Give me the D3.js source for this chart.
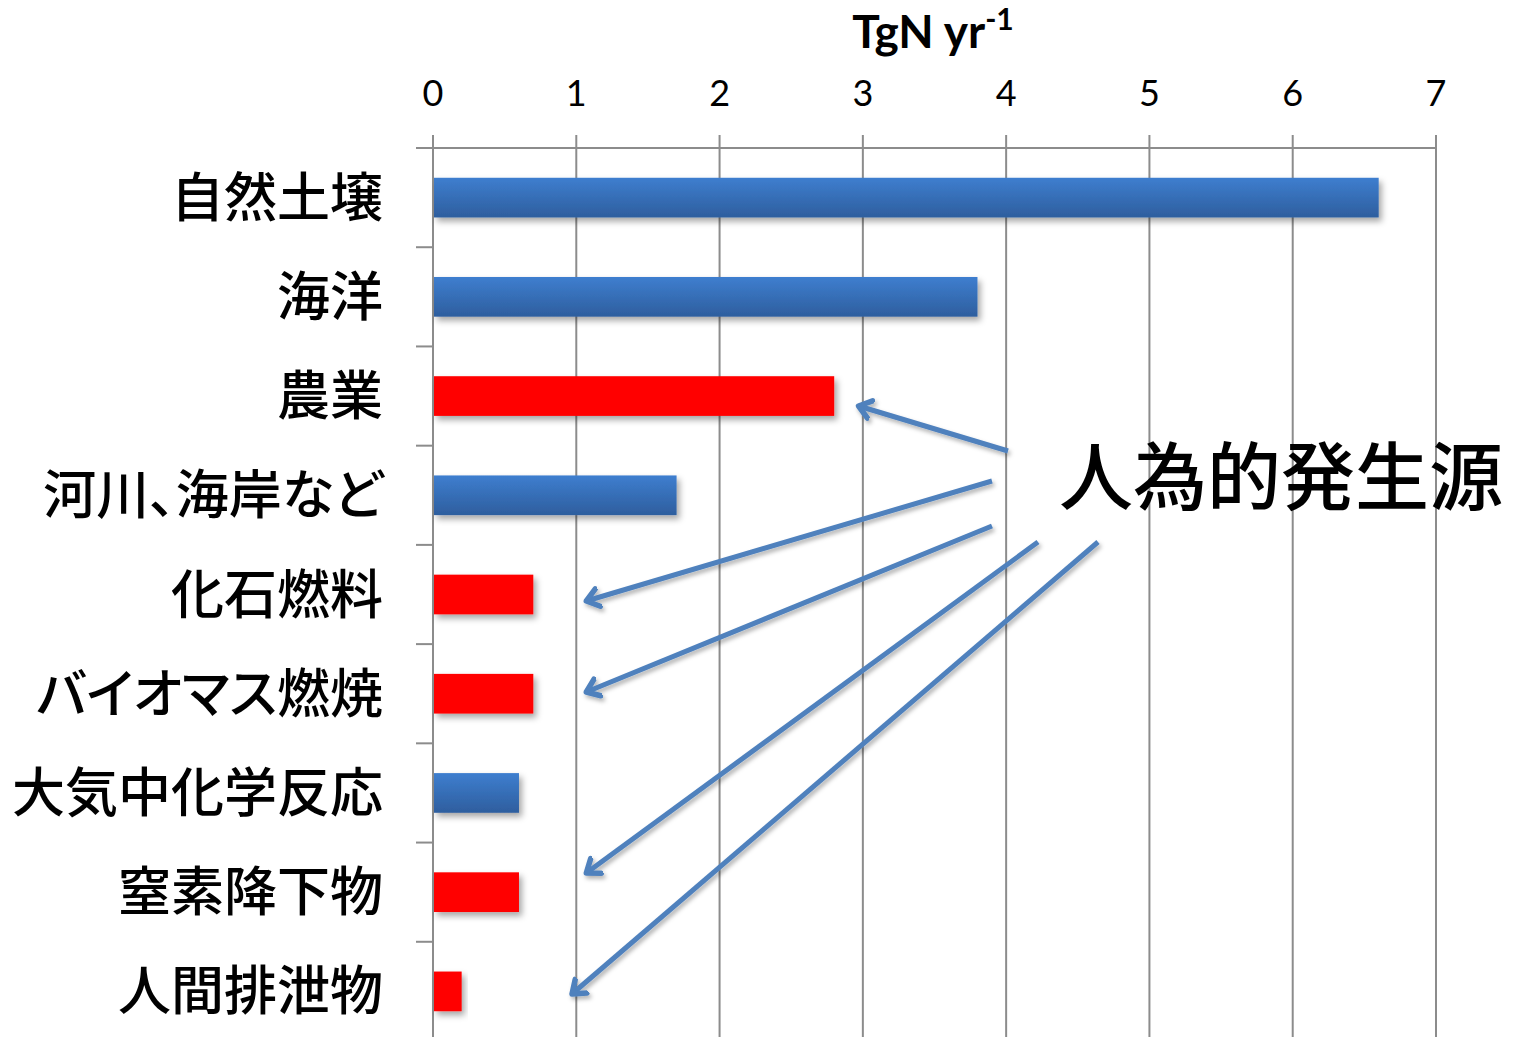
<!DOCTYPE html>
<html><head><meta charset="utf-8">
<script src="https://cdn.jsdelivr.net/npm/d3@7"></script>
<style>html,body{margin:0;padding:0;background:#fff;}svg{display:block;}</style>
</head><body>
<script>
const categories = ["自然土壌","海洋","農業","河川、海岸など","化石燃料","バイオマス燃焼","大気中化学反応","窒素降下物","人間排泄物"];
const values = [6.6, 3.8, 2.8, 1.7, 0.7, 0.7, 0.6, 0.6, 0.2];
const anthropogenic = [false, false, true, false, true, true, false, true, true];
const xTicks = [0,1,2,3,4,5,6,7];
const unitLabel = "TgN yr";
const unitSup = "-1";
const annotationText = "人為的発生源";
const arrowTargets = ["農業","化石燃料","バイオマス燃焼","窒素降下物","人間排泄物"];

const W = 1514, H = 1037;
const svg = d3.select("body").append("svg").attr("width", W).attr("height", H);
const defs = svg.append("defs");

const grad = defs.append("linearGradient").attr("id","blueGrad").attr("x1",0).attr("y1",0).attr("x2",0).attr("y2",1);
grad.append("stop").attr("offset","0%").attr("stop-color","#3e7ecf");
grad.append("stop").attr("offset","100%").attr("stop-color","#2e5e9e");

const sh = defs.append("filter").attr("id","shadow").attr("x","-10%").attr("y","-30%").attr("width","130%").attr("height","180%");
sh.append("feDropShadow").attr("dx",3).attr("dy",4).attr("stdDeviation",3).attr("flood-color","#000").attr("flood-opacity",0.35);

const ash = defs.append("filter").attr("id","ashadow").attr("x","-20%").attr("y","-20%").attr("width","140%").attr("height","140%");
ash.append("feDropShadow").attr("dx",2).attr("dy",3).attr("stdDeviation",2).attr("flood-color","#000").attr("flood-opacity",0.3);

defs.append("marker").attr("id","arrowHead").attr("viewBox","-14 -14 28 28")
  .attr("refX",0).attr("refY",0).attr("markerWidth",28).attr("markerHeight",28)
  .attr("markerUnits","userSpaceOnUse").attr("orient","auto")
  .append("path").attr("d","M-12,-9 L0,0 L-12,9").attr("fill","none")
  .attr("stroke","#4f81bd").attr("stroke-width",5.5).attr("stroke-linecap","round").attr("stroke-linejoin","round");

const x = d3.scaleLinear().domain([0,7]).range([433,1436]);
const y = d3.scaleBand().domain(categories).range([148,1041]).paddingInner(0.6).paddingOuter(0.3);
const yTicks = d3.scaleBand().domain(categories).range([148,1041]);

const grid = svg.append("g");
grid.selectAll("line.g").data(xTicks.filter(d=>d>0)).join("line")
  .attr("x1",d=>x(d)).attr("x2",d=>x(d)).attr("y1",135).attr("y2",H)
  .attr("stroke","#8c8c8c").attr("stroke-width",2);
grid.append("line").attr("x1",416).attr("x2",x(7)).attr("y1",148).attr("y2",148).attr("stroke","#8c8c8c").attr("stroke-width",2);
grid.append("line").attr("x1",x(0)).attr("x2",x(0)).attr("y1",135).attr("y2",H).attr("stroke","#8c8c8c").attr("stroke-width",2);
const bandEdges = categories.map(c=>yTicks(c)).concat([yTicks(categories[8])+yTicks.bandwidth()]);
grid.selectAll("line.lt").data(bandEdges).join("line")
  .attr("x1",416).attr("x2",x(0)).attr("y1",d=>d).attr("y2",d=>d)
  .attr("stroke","#8c8c8c").attr("stroke-width",2);

svg.append("g").selectAll("text").data(xTicks).join("text")
  .attr("x",d=>x(d)).attr("y",106).attr("text-anchor","middle")
  .attr("font-family","Lato, 'Open Sans', sans-serif").attr("font-size",36).attr("fill","#000")
  .text(d=>d);

const t = svg.append("text").attr("x",933).attr("y",48).attr("text-anchor","middle")
  .attr("font-family","Lato, 'Open Sans', sans-serif").attr("font-weight","bold").attr("font-size",46).attr("fill","#000");
t.append("tspan").text(unitLabel);
t.append("tspan").attr("dy",-18).attr("font-size",30).text(unitSup);

svg.append("g").selectAll("rect").data(categories).join("rect")
  .attr("x",x(0)+1).attr("y",d=>y(d)).attr("height",y.bandwidth())
  .attr("width",(d,i)=>x(values[i])-x(0)-1)
  .attr("fill",(d,i)=>anthropogenic[i] ? "#ff0000" : "url(#blueGrad)")
  .attr("filter","url(#shadow)");

svg.append("g").selectAll("text").data(categories).join("text")
  .attr("x",383).attr("y",d=>yTicks(d)+yTicks.bandwidth()/2).attr("dy","0.36em")
  .attr("text-anchor","end").attr("font-family","'Noto Sans CJK JP', sans-serif")
  .attr("font-weight",500).style("font-feature-settings","'palt'")
  .attr("font-size",53).attr("fill","#000").text(d=>d);

svg.append("text").attr("x",1059).attr("y",477).attr("dy","0.36em")
  .attr("font-family","'Noto Sans CJK JP', sans-serif").attr("font-weight",500).attr("font-size",74).attr("fill","#000")
  .text(annotationText);

const arrowStarts = [[1008,451],[992,481],[992,526],[1038,542],[1098,542]];
const arrowEnds = [
  [x(2.97), 406],
  [x(1.07), 601],
  [x(1.07), 692],
  [x(1.07), 873],
  [x(0.97), 994]
];
svg.append("g").attr("filter","url(#ashadow)").selectAll("line").data(arrowTargets).join("line")
  .attr("x1",(d,i)=>arrowStarts[i][0]).attr("y1",(d,i)=>arrowStarts[i][1])
  .attr("x2",(d,i)=>arrowEnds[i][0]).attr("y2",(d,i)=>arrowEnds[i][1])
  .attr("stroke","#4f81bd").attr("stroke-width",5)
  .attr("marker-end","url(#arrowHead)");
</script>
</body></html>
